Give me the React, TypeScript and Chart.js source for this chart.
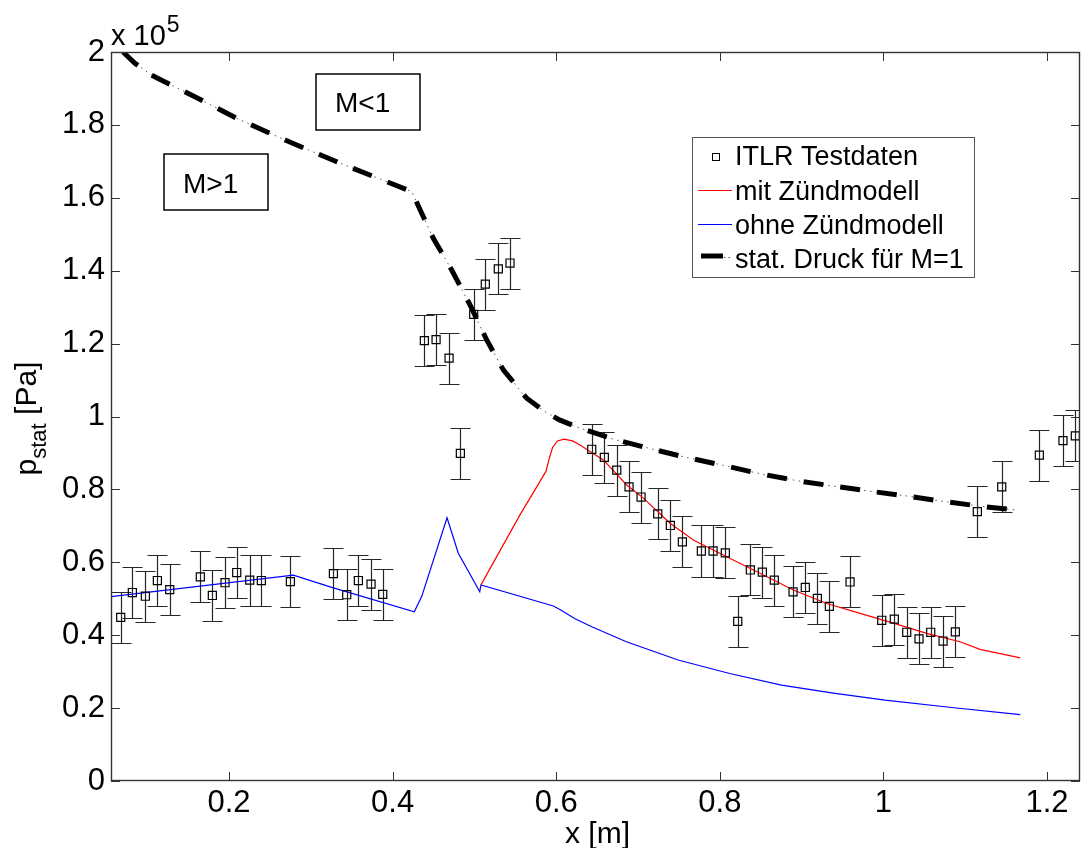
import React, { useEffect, useRef } from 'react';
import { Chart, registerables } from 'chart.js';

Chart.register(...registerables);

const FONT = "'Liberation Sans', Arial, Helvetica, sans-serif";

// axis ranges and ticks
const X_MIN = 0.0557;
const X_MAX = 1.2403;
const Y_MIN = 0;
const Y_MAX = 200000;
const xTicks = [0.2, 0.4, 0.6, 0.8, 1.0, 1.2];
const xTickLabels = ['0.2', '0.4', '0.6', '0.8', '1', '1.2'];
const yTicks = [0, 20000, 40000, 60000, 80000, 100000, 120000, 140000, 160000, 180000, 200000];
const yTickLabels = ['0', '0.2', '0.4', '0.6', '0.8', '1', '1.2', '1.4', '1.6', '1.8', '2'];

// ITLR test data (x in m, p in Pa), error +/- ERR_PA
const testX = [0.0676, 0.0818, 0.0977, 0.1124, 0.1275, 0.1649, 0.1796, 0.1951, 0.2094, 0.2253, 0.2395, 0.275,
  0.3276, 0.3439, 0.3581, 0.3736, 0.3879, 0.4388, 0.4531, 0.469, 0.4828, 0.4991, 0.5133, 0.5292, 0.5435,
  0.6434, 0.6588, 0.674, 0.689, 0.7037, 0.7241, 0.7395, 0.7542, 0.7774, 0.7917, 0.8067, 0.8219, 0.8373,
  0.852, 0.8666, 0.8895, 0.9045, 0.9192, 0.9339, 0.9592, 0.9979, 1.0133, 1.0285, 1.0435, 1.0578, 1.0729,
  1.0879, 1.1148, 1.1446, 1.1906, 1.2195, 1.2346];
const testY = [44900, 51700, 50700, 55000, 52500, 56000, 50900, 54400, 57200, 55100, 55000, 54700,
  56900, 51100, 55000, 54000, 51200, 120800, 121100, 116000, 89900, 128000, 136300, 140500, 142100,
  91000, 88800, 85300, 80700, 77900, 73300, 70100, 65600, 63100, 63100, 62600, 43800, 57900,
  57300, 55100, 51900, 53100, 50100, 47900, 54600, 44100, 44400, 40800, 39000, 40800, 38400,
  40900, 73900, 80700, 89400, 93400, 94700];
const ERR_PA = 7000;

// simulation "mit Zündmodell"
const mitX = [0.508, 0.5313, 0.5557, 0.5762, 0.5875, 0.5915, 0.5955, 0.6015, 0.6095, 0.62, 0.629, 0.6413,
  0.6576, 0.6862, 0.7065, 0.7391, 0.7676, 0.8084, 0.8491, 0.8899, 0.9307, 0.9714, 1.0121, 1.0529, 1.0936,
  1.118, 1.1673];
const mitY = [53800, 63200, 73000, 80700, 85000, 88500, 91500, 93300, 93800, 93300, 92200, 90400,
  88100, 81200, 77600, 70700, 66100, 61500, 57000, 52400, 48700, 46000, 43300, 40500, 38200,
  36100, 33800];

// simulation "ohne Zündmodell"
const ohneX = [0.0557, 0.2786, 0.3275, 0.4265, 0.4355, 0.4665, 0.4803, 0.5065, 0.508, 0.5965, 0.6055, 0.6224,
  0.6435, 0.6857, 0.749, 0.812, 0.8754, 0.9387, 1.002, 1.0863, 1.1673];
const ohneY = [50600, 56500, 53000, 46400, 50600, 72200, 62500, 51900, 53800, 48000, 46900, 44600,
  42300, 38200, 33200, 29500, 26300, 24100, 22200, 20100, 18200];

// static pressure for M=1
const machX = [0.0704, 0.085, 0.105, 0.16, 0.2114, 0.27, 0.3357, 0.4233, 0.4497, 0.4722, 0.4946, 0.515,
  0.5353, 0.5639, 0.5863, 0.6046, 0.629, 0.6698, 0.7147, 0.7587, 0.8043, 0.8491, 0.894, 0.9388, 0.9836,
  1.0285, 1.0733, 1.118, 1.1645];
const machY = [200000, 196900, 193700, 187500, 181600, 175700, 169500, 161700, 148900, 140200, 130600, 121000,
  112800, 105000, 101300, 99000, 96800, 93800, 91200, 88800, 86600, 84300, 82400, 80900, 79500,
  78200, 76700, 75400, 74300];

const seriesLabels = ['ITLR Testdaten', 'mit Zündmodell', 'ohne Zündmodell', 'stat. Druck für M=1'];
const regionLabels = ['M>1', 'M<1'];

const pts = (xs: number[], ys: number[]) => xs.map((x, i) => ({ x, y: ys[i] }));

const decorPlugin = {
  id: 'decor',
  beforeDatasetsDraw(chart: any) {
    const { ctx, chartArea: a, scales } = chart;
    const x = scales.x;
    const y = scales.y;
    ctx.save();
    ctx.beginPath();
    ctx.rect(a.left, a.top, a.right - a.left, a.bottom - a.top);
    ctx.clip();
    ctx.strokeStyle = '#262626';
    ctx.lineWidth = 1.2;
    testX.forEach((xv, i) => {
      const px = Math.round(x.getPixelForValue(xv)) + 0.5;
      const yl = Math.round(y.getPixelForValue(testY[i] - ERR_PA)) + 0.5;
      const yh = Math.round(y.getPixelForValue(testY[i] + ERR_PA)) + 0.5;
      ctx.beginPath();
      ctx.moveTo(px, yl);
      ctx.lineTo(px, yh);
      ctx.moveTo(px - 10, yl);
      ctx.lineTo(px + 10, yl);
      ctx.moveTo(px - 10, yh);
      ctx.lineTo(px + 10, yh);
      ctx.stroke();
    });
    ctx.restore();
  },
  afterDraw(chart: any) {
    const { ctx, chartArea: a, scales } = chart;
    const x = scales.x;
    const y = scales.y;
    ctx.save();
    // frame
    ctx.strokeStyle = '#333';
    ctx.lineWidth = 1.4;
    ctx.strokeRect(a.left + 0.5, a.top + 0.5, a.right - a.left - 1, a.bottom - a.top - 1);
    // inward ticks
    ctx.lineWidth = 1;
    ctx.beginPath();
    x.ticks.forEach((t: any) => {
      const px = Math.round(x.getPixelForValue(t.value)) + 0.5;
      ctx.moveTo(px, a.bottom);
      ctx.lineTo(px, a.bottom - 9);
      ctx.moveTo(px, a.top);
      ctx.lineTo(px, a.top + 9);
    });
    y.ticks.forEach((t: any) => {
      const py = Math.round(y.getPixelForValue(t.value)) + 0.5;
      ctx.moveTo(a.left, py);
      ctx.lineTo(a.left + 9, py);
      ctx.moveTo(a.right, py);
      ctx.lineTo(a.right - 9, py);
    });
    ctx.stroke();

    ctx.fillStyle = '#000';
    ctx.textAlign = 'left';
    ctx.textBaseline = 'alphabetic';
    // exponent label
    ctx.font = `29px ${FONT}`;
    ctx.fillText('x 10', a.left, 45);
    const w10 = ctx.measureText('x 10').width;
    ctx.font = `23px ${FONT}`;
    ctx.fillText('5', a.left + w10 + 1, 32);

    // x axis title
    ctx.font = `30px ${FONT}`;
    ctx.textAlign = 'center';
    ctx.fillText('x [m]', (a.left + a.right) / 2 + 2, 843);

    // y axis title with subscript (rotated)
    ctx.save();
    ctx.translate(36, (a.top + a.bottom) / 2 + 2);
    ctx.rotate(-Math.PI / 2);
    ctx.textAlign = 'left';
    ctx.font = `30px ${FONT}`;
    const wp = ctx.measureText('p').width;
    const wr = ctx.measureText(' [Pa]').width;
    ctx.font = `22px ${FONT}`;
    const ws = ctx.measureText('stat').width;
    const start = -(wp + ws + wr) / 2;
    ctx.font = `30px ${FONT}`;
    ctx.fillText('p', start, 0);
    ctx.fillText(' [Pa]', start + wp + ws, 0);
    ctx.font = `22px ${FONT}`;
    ctx.fillText('stat', start + wp, 10);
    ctx.restore();

    // region boxes
    ctx.strokeStyle = '#000';
    ctx.lineWidth = 1.5;
    ctx.font = `28px ${FONT}`;
    ctx.textAlign = 'left';
    ctx.strokeRect(164, 154, 104, 56);
    ctx.fillText(regionLabels[0], 183, 193);
    ctx.strokeRect(316, 74, 104, 56);
    ctx.fillText(regionLabels[1], 335, 112);

    // legend
    const lx = 692, ly = 137, lw = 282, lh = 140;
    ctx.fillStyle = '#fff';
    ctx.fillRect(lx, ly, lw, lh);
    ctx.strokeStyle = '#555';
    ctx.lineWidth = 1;
    ctx.strokeRect(lx + 0.5, ly + 0.5, lw, lh);
    const baselines = [165, 199.5, 233.5, 268];
    const lineYs = [157, 190, 224, 256];
    ctx.font = `27px ${FONT}`;
    ctx.fillStyle = '#000';
    seriesLabels.forEach((lab, i) => {
      ctx.fillText(lab, 735, baselines[i]);
    });
    // sample: square
    ctx.strokeStyle = '#000';
    ctx.lineWidth = 1;
    ctx.strokeRect(712.5, lineYs[0] - 3.5, 7, 7);
    // sample: red
    ctx.strokeStyle = '#ff0000';
    ctx.lineWidth = 1;
    ctx.beginPath();
    ctx.moveTo(698, lineYs[1] + 0.5);
    ctx.lineTo(732, lineYs[1] + 0.5);
    ctx.stroke();
    // sample: blue
    ctx.strokeStyle = '#0000ff';
    ctx.beginPath();
    ctx.moveTo(698, lineYs[2] + 0.5);
    ctx.lineTo(732, lineYs[2] + 0.5);
    ctx.stroke();
    // sample: thick dash + dots
    ctx.strokeStyle = '#000';
    ctx.lineWidth = 5;
    ctx.beginPath();
    ctx.moveTo(701, lineYs[3]);
    ctx.lineTo(723, lineYs[3]);
    ctx.stroke();
    ctx.strokeStyle = '#555';
    ctx.lineWidth = 1;
    ctx.setLineDash([1.5, 3]);
    ctx.beginPath();
    ctx.moveTo(724, lineYs[3] + 1.5);
    ctx.lineTo(733, lineYs[3] + 1.5);
    ctx.stroke();
    ctx.setLineDash([]);
    ctx.restore();
  },
};

export default function App() {
  const ref = useRef<HTMLCanvasElement>(null);

  useEffect(() => {
    const canvas = ref.current;
    if (!canvas) return;
    const tickFont = { family: FONT, size: 31 };
    const chart = new Chart(canvas, {
      type: 'scatter',
      data: {
        datasets: [
          {
            label: seriesLabels[0],
            data: pts(testX, testY),
            showLine: false,
            pointStyle: 'rect',
            pointRadius: 5.7,
            pointBorderWidth: 1.2,
            pointBorderColor: '#000',
            pointBackgroundColor: 'rgba(0,0,0,0)',
          },
          {
            label: seriesLabels[1],
            data: pts(mitX, mitY),
            showLine: true,
            borderColor: '#ff0000',
            borderWidth: 1.2,
            pointRadius: 0,
            tension: 0,
          },
          {
            label: seriesLabels[2],
            data: pts(ohneX, ohneY),
            showLine: true,
            borderColor: '#0000ff',
            borderWidth: 1.2,
            pointRadius: 0,
            tension: 0,
          },
          {
            label: seriesLabels[3],
            data: pts(machX, machY),
            showLine: true,
            borderColor: '#000',
            borderWidth: 5,
            borderDash: [20, 17],
            borderCapStyle: 'butt',
            pointRadius: 0,
            tension: 0,
          },
          {
            label: seriesLabels[3] + ' (dots)',
            data: pts(machX, machY),
            showLine: true,
            borderColor: '#555',
            borderWidth: 1,
            borderDash: [1.5, 4.5],
            pointRadius: 0,
            tension: 0,
          },
        ],
      },
      options: {
        responsive: false,
        animation: false,
        devicePixelRatio: 1,
        events: [],
        layout: { autoPadding: false, padding: { top: 52, right: 1, left: 0, bottom: 0 } },
        plugins: {
          legend: { display: false },
          tooltip: { enabled: false },
        },
        scales: {
          x: {
            type: 'linear',
            min: X_MIN,
            max: X_MAX,
            grid: { display: false, drawTicks: false },
            border: { display: false },
            afterBuildTicks: (s: any) => {
              s.ticks = xTicks.map((v) => ({ value: v }));
            },
            afterFit: (s: any) => {
              s.height = 67;
            },
            ticks: {
              autoSkip: false,
              maxRotation: 0,
              minRotation: 0,
              padding: 4,
              color: '#000',
              font: tickFont,
              callback: (_v: any, i: number) => xTickLabels[i],
            },
          },
          y: {
            type: 'linear',
            min: Y_MIN,
            max: Y_MAX,
            grid: { display: false, drawTicks: false },
            border: { display: false },
            afterBuildTicks: (s: any) => {
              s.ticks = yTicks.map((v) => ({ value: v }));
            },
            afterFit: (s: any) => {
              s.width = 111;
            },
            ticks: {
              autoSkip: false,
              padding: 6,
              color: '#000',
              font: tickFont,
              callback: (_v: any, i: number) => yTickLabels[i],
            },
          },
        },
      } as any,
      plugins: [decorPlugin],
    });
    return () => chart.destroy();
  }, []);

  return (
    <div style={{ position: 'absolute', left: 0, top: 0, width: 1081, height: 848, background: '#fff' }}>
      <canvas ref={ref} width={1081} height={848} style={{ display: 'block', width: 1081, height: 848 }} />
    </div>
  );
}
